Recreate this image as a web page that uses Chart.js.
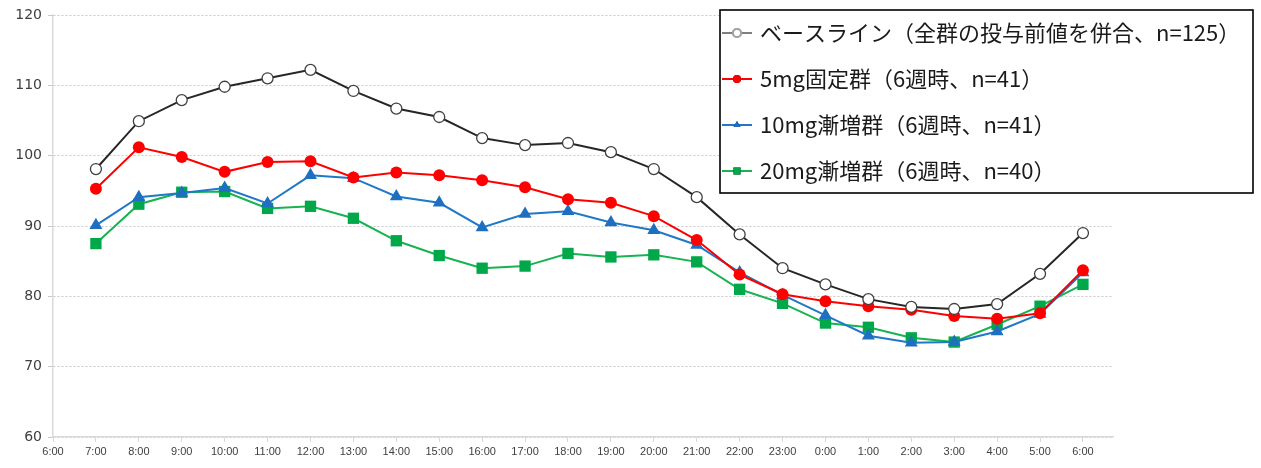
<!DOCTYPE html>
<html>
<head>
<meta charset="utf-8">
<script src="https://cdn.jsdelivr.net/npm/chart.js@4/dist/chart.umd.min.js"></script>
<style>
  html, body { margin: 0; padding: 0; background: #ffffff; }
  #wrap { width: 1261px; height: 468px; }
</style>
</head>
<body>
<div id="wrap"><canvas id="chart" width="1261" height="468"></canvas></div>
<script>
(() => {
    'use strict';

    const timeLabels = ['6:00', '7:00', '8:00', '9:00', '10:00', '11:00', '12:00', '13:00', '14:00', '15:00',
        '16:00', '17:00', '18:00', '19:00', '20:00', '21:00', '22:00', '23:00', '0:00', '1:00', '2:00',
        '3:00', '4:00', '5:00', '6:00'];

    const seriesNames = [
        'ベースライン（全群の投与前値を併合、n=125）',
        '5mg固定群（6週時、n=41）',
        '10mg漸増群（6週時、n=41）',
        '20mg漸増群（6週時、n=40）',
    ];

    // values from 7:00 to 6:00 (no value at the first 6:00)
    const baseline = [98.1, 104.9, 107.9, 109.8, 111.0, 112.2, 109.2, 106.7, 105.5, 102.5, 101.5, 101.8,
        100.5, 98.1, 94.1, 88.8, 84.0, 81.7, 79.6, 78.5, 78.2, 78.9, 83.2, 89.0];
    const dose5 = [95.3, 101.2, 99.8, 97.7, 99.1, 99.2, 96.9, 97.6, 97.2, 96.5, 95.5, 93.8,
        93.3, 91.4, 88.0, 83.1, 80.3, 79.3, 78.6, 78.1, 77.2, 76.8, 77.6, 83.7];
    const dose10 = [90.1, 94.1, 94.7, 95.4, 93.2, 97.2, 96.8, 94.2, 93.3, 89.8, 91.7, 92.1,
        90.5, 89.4, 87.3, 83.4, 80.2, 77.3, 74.4, 73.4, 73.5, 75.0, 77.5, 83.4];
    const dose20 = [87.5, 93.1, 94.8, 94.9, 92.5, 92.8, 91.1, 87.9, 85.8, 84.0, 84.3, 86.1,
        85.6, 85.9, 84.9, 81.0, 79.0, 76.2, 75.6, 74.1, 73.5, 76.0, 78.6, 81.7];

    const toPoints = (values) => values.map((y, i) => ({ x: i + 1, y }));

    const datasets = [
        {
            label: seriesNames[0],
            data: toPoints(baseline),
            borderColor: '#262626',
            backgroundColor: '#ffffff',
            pointBorderColor: '#404040',
            pointBackgroundColor: '#ffffff',
            pointStyle: 'circle',
            pointRadius: 5.5,
            pointBorderWidth: 1.3,
            legendMarker: '#a6a6a6',
            legendLine: '#7f7f7f',
        },
        {
            label: seriesNames[1],
            data: toPoints(dose5),
            borderColor: '#ff0000',
            backgroundColor: '#ff0000',
            pointStyle: 'circle',
            pointRadius: 6,
            pointBorderWidth: 0,
            legendMarker: '#ff0000',
            legendLine: '#ff0000',
        },
        {
            label: seriesNames[2],
            data: toPoints(dose10),
            borderColor: '#1f78c8',
            backgroundColor: '#1f6fc0',
            pointStyle: 'triangle',
            pointRadius: 7.5,
            pointBorderWidth: 0,
            legendMarker: '#1f6fc0',
            legendLine: '#1f78c8',
        },
        {
            label: seriesNames[3],
            data: toPoints(dose20),
            borderColor: '#16b350',
            backgroundColor: '#00a84a',
            pointStyle: 'rect',
            pointRadius: 8,
            pointBorderWidth: 0,
            legendMarker: '#00a84a',
            legendLine: '#16b350',
        },
    ];

    const boxLegend = {
        id: 'boxLegend',
        afterDatasetsDraw(chart) {
            const ctx = chart.ctx;
            const left = 720, top = 10, right = 1253, bottom = 193;
            ctx.save();
            ctx.fillStyle = '#ffffff';
            ctx.fillRect(left, top, right - left, bottom - top);
            ctx.strokeStyle = '#000000';
            ctx.lineWidth = 1.6;
            ctx.strokeRect(left, top, right - left, bottom - top);

            chart.data.datasets.forEach((ds, i) => {
                const y = 33 + i * 46;
                ctx.strokeStyle = ds.legendLine;
                ctx.lineWidth = 2;
                ctx.beginPath();
                ctx.moveTo(722, y);
                ctx.lineTo(752, y);
                ctx.stroke();
                Chart.helpers.drawPoint(ctx, {
                    pointStyle: ds.pointStyle,
                    radius: ds.pointStyle === 'rect' ? 5 : 4,
                    borderWidth: ds.pointBorderWidth ? 1.2 : 0,
                }, 737, y);
                ctx.fillStyle = i === 0 ? '#ffffff' : ds.legendMarker;
                ctx.strokeStyle = ds.legendMarker;
                ctx.fill();
                if (i === 0) ctx.stroke();

                ctx.fillStyle = '#1a1a1a';
                ctx.font = '22px "Noto Sans CJK JP", sans-serif';
                ctx.textBaseline = 'middle';
                ctx.textAlign = 'left';
                ctx.fillText(ds.label, 760, y);
            });
            ctx.restore();
        },
    };

    new Chart(document.getElementById('chart'), {
        type: 'line',
        data: { datasets },
        plugins: [boxLegend],
        options: {
            responsive: false,
            animation: false,
            layout: { padding: { top: 15, right: 148, left: 0, bottom: 0 } },
            elements: {
                line: { borderWidth: 2, tension: 0 },
            },
            plugins: {
                legend: { display: false },
                tooltip: { enabled: false },
            },
            scales: {
                x: {
                    type: 'linear',
                    min: 0,
                    max: 24.7,
                    afterBuildTicks: (scale) => {
                        scale.ticks = timeLabels.map((_, i) => ({ value: i }));
                    },
                    afterFit: (scale) => { scale.height = 31; },
                    border: { color: '#d9d9d9', width: 1.5 },
                    grid: { drawOnChartArea: false, drawTicks: true, tickLength: 5, color: '#d9d9d9' },
                    ticks: {
                        autoSkip: false,
                        maxRotation: 0,
                        padding: 3,
                        color: '#404040',
                        font: { family: '"Liberation Sans Narrow", "Liberation Sans", sans-serif', size: 11 },
                        callback: (value) => timeLabels[value],
                    },
                },
                y: {
                    min: 60,
                    max: 120,
                    afterFit: (scale) => { scale.width = 53; },
                    border: { color: '#d9d9d9', width: 1.5, dash: [2, 2] },
                    grid: { color: '#c8c8c8', tickLength: 5, lineWidth: 1 },
                    ticks: {
                        stepSize: 10,
                        padding: 6,
                        color: '#404040',
                        font: { family: '"DejaVu Sans", sans-serif', size: 14 },
                    },
                },
            },
        },
    });
})();
</script>
</body>
</html>
